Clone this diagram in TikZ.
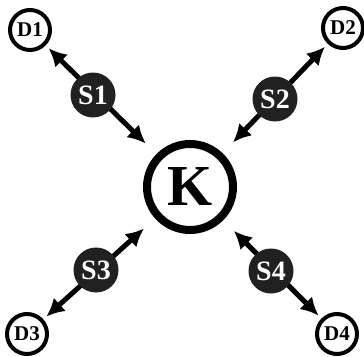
\documentclass[tikz,border=0pt]{standalone}
\usepackage{fontspec}
\setmainfont{Liberation Serif}
\usepackage{tikz}
\usetikzlibrary{arrows.meta, positioning}

\tikzset{
    dnode/.style={circle, draw=black, line width=4pt, fill=white, inner sep=0pt,
        minimum size=40pt, font=\fontsize{21}{21}\selectfont\bfseries},
    snode/.style={circle, fill=black!87, text=white, inner sep=0pt,
        minimum size=45pt, font=\fontsize{28}{28}\selectfont\bfseries},
    knode/.style={circle, draw=black, line width=8pt, fill=white, inner sep=0pt,
        minimum size=86pt, font=\fontsize{58}{58}\selectfont\bfseries},
    link/.style={line width=5pt, {Latex[length=18pt,width=18pt]}-{Latex[length=18pt,width=18pt]},
        shorten <=4pt, shorten >=15pt}
}

\begin{document}
\begin{tikzpicture}[x=1pt, y=-1pt]
    \useasboundingbox (0,0) rectangle (364,356);

    % Centre
    \node[knode] (K) at (190,187) {K};

    % Outer nodes
    \node[dnode] (D1) at (30,30) {D1};
    \node[dnode] (D2) at (343,28) {D2};
    \node[dnode] (D3) at (27,334) {D3};
    \node[dnode] (D4) at (337,334) {D4};

    % Links
    \draw[link] (D1) -- (K);
    \draw[link] (D2) -- (K);
    \draw[link] (D3) -- (K);
    \draw[link] (D4) -- (K);

    % S nodes on top of the links
    \node[snode] (S1) at (93,95) {S1};
    \node[snode] (S2) at (275,99) {S2};
    \node[snode] (S3) at (96,270) {S3};
    \node[snode] (S4) at (271,271) {S4};
\end{tikzpicture}
\end{document}
